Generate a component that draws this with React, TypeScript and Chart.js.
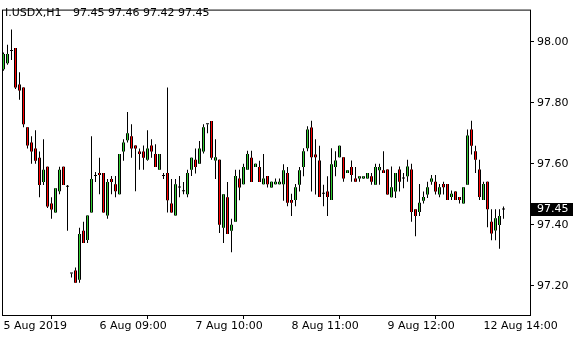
import React, { useEffect, useRef } from "react";
import { Chart, registerables } from "chart.js";

Chart.register(...registerables);

const symbolTitle = "I.USDX,H1";
const ohlcTitle = "97.45 97.46 97.42 97.45";
const lastPrice = 97.45;

const opens = [
  97.91, 97.93, 97.97, 97.98, 97.86, 97.85, 97.72, 97.67, 97.65, 97.62,
  97.54, 97.59, 97.47, 97.44, 97.51, 97.59, 97.525, 97.24, 97.25, 97.22,
  97.38, 97.35, 97.44, 97.56, 97.57, 97.57, 97.43, 97.55, 97.533, 97.5,
  97.64, 97.677, 97.69, 97.66, 97.64, 97.64, 97.613, 97.66, 97.632, 97.58,
  97.56, 97.57, 97.47, 97.43, 97.522, 97.51, 97.5, 97.58, 97.613, 97.6,
  97.64, 97.73, 97.74, 97.611, 97.613, 97.39, 97.49, 97.38, 97.41, 97.552,
  97.533, 97.58, 97.62, 97.589, 97.589, 97.533, 97.56, 97.522, 97.533, 97.533,
  97.533, 97.57, 97.481, 97.481, 97.531, 97.589, 97.651, 97.719, 97.63, 97.611,
  97.502, 97.509, 97.481, 97.589, 97.621, 97.621, 97.57, 97.589, 97.552, 97.552,
  97.552, 97.552, 97.559, 97.531, 97.579, 97.579, 97.581, 97.49, 97.509, 97.581,
  97.552, 97.559, 97.581, 97.451, 97.442, 97.479, 97.499, 97.541, 97.541, 97.499,
  97.534, 97.534, 97.491, 97.509, 97.491, 97.47, 97.531, 97.712, 97.641, 97.581,
  97.481, 97.541, 97.41, 97.381, 97.399, 97.45,
];
const highs = [
  97.965, 97.99, 98.04, 97.98, 97.9, 97.85, 97.72, 97.69, 97.71, 97.64,
  97.68, 97.59, 97.49, 97.52, 97.59, 97.59, 97.53, 97.24, 97.26, 97.39,
  97.41, 97.43, 97.69, 97.573, 97.62, 97.57, 97.55, 97.56, 97.56, 97.632,
  97.68, 97.77, 97.73, 97.66, 97.65, 97.66, 97.71, 97.68, 97.664, 97.632,
  97.57, 97.85, 97.55, 97.55, 97.56, 97.54, 97.58, 97.62, 97.65, 97.675,
  97.73, 97.73, 97.74, 97.68, 97.613, 97.5, 97.54, 97.42, 97.58, 97.58,
  97.6, 97.643, 97.643, 97.6, 97.61, 97.632, 97.56, 97.541, 97.552, 97.552,
  97.598, 97.589, 97.502, 97.534, 97.589, 97.651, 97.723, 97.741, 97.68, 97.659,
  97.531, 97.559, 97.651, 97.641, 97.659, 97.621, 97.579, 97.611, 97.589, 97.559,
  97.56, 97.57, 97.57, 97.6, 97.6, 97.641, 97.581, 97.591, 97.57, 97.591,
  97.57, 97.613, 97.6, 97.451, 97.534, 97.509, 97.541, 97.563, 97.563, 97.534,
  97.541, 97.534, 97.512, 97.509, 97.491, 97.523, 97.712, 97.741, 97.659, 97.613,
  97.541, 97.541, 97.451, 97.451, 97.451, 97.46,
];
const lows = [
  97.905, 97.925, 97.94, 97.845, 97.81, 97.72, 97.65, 97.6, 97.6, 97.49,
  97.53, 97.455, 97.42, 97.44, 97.5, 97.53, 97.38, 97.227, 97.21, 97.21,
  97.34, 97.34, 97.44, 97.54, 97.5, 97.44, 97.42, 97.5, 97.49, 97.5,
  97.61, 97.67, 97.62, 97.51, 97.58, 97.58, 97.61, 97.62, 97.589, 97.58,
  97.55, 97.44, 97.44, 97.43, 97.49, 97.5, 97.49, 97.56, 97.568, 97.6,
  97.634, 97.7, 97.613, 97.55, 97.373, 97.34, 97.37, 97.31, 97.41, 97.48,
  97.533, 97.58, 97.54, 97.589, 97.54, 97.533, 97.522, 97.522, 97.533, 97.533,
  97.479, 97.461, 97.429, 97.461, 97.509, 97.559, 97.641, 97.509, 97.499, 97.491,
  97.461, 97.429, 97.481, 97.559, 97.621, 97.541, 97.57, 97.541, 97.541, 97.541,
  97.55, 97.552, 97.531, 97.531, 97.531, 97.57, 97.499, 97.49, 97.488, 97.509,
  97.52, 97.541, 97.41, 97.362, 97.429, 97.47, 97.488, 97.531, 97.499, 97.49,
  97.499, 97.481, 97.481, 97.481, 97.47, 97.47, 97.531, 97.63, 97.57, 97.481,
  97.481, 97.392, 97.349, 97.349, 97.321, 97.42,
];
const closes = [
  97.96, 97.96, 97.97, 97.85, 97.84, 97.73, 97.66, 97.64, 97.61, 97.53,
  97.58, 97.46, 97.45, 97.52, 97.58, 97.53, 97.525, 97.24, 97.21, 97.37,
  97.34, 97.43, 97.55, 97.56, 97.563, 97.44, 97.54, 97.54, 97.51, 97.632,
  97.67, 97.7, 97.65, 97.65, 97.632, 97.62, 97.65, 97.64, 97.589, 97.632,
  97.56, 97.48, 97.44, 97.533, 97.522, 97.51, 97.57, 97.62, 97.589, 97.65,
  97.72, 97.73, 97.62, 97.621, 97.4, 97.5, 97.37, 97.4, 97.56, 97.522,
  97.589, 97.632, 97.54, 97.6, 97.54, 97.552, 97.533, 97.541, 97.541, 97.541,
  97.579, 97.472, 97.472, 97.523, 97.579, 97.641, 97.712, 97.621, 97.621, 97.491,
  97.502, 97.491, 97.598, 97.611, 97.659, 97.552, 97.579, 97.563, 97.541, 97.559,
  97.559, 97.57, 97.541, 97.589, 97.589, 97.57, 97.499, 97.523, 97.57, 97.541,
  97.552, 97.591, 97.442, 97.429, 97.472, 97.491, 97.523, 97.552, 97.509, 97.523,
  97.523, 97.481, 97.502, 97.481, 97.481, 97.523, 97.693, 97.659, 97.613, 97.491,
  97.534, 97.451, 97.371, 97.421, 97.429, 97.45,
];

const xTickIndexes = [0, 24, 48, 72, 96, 120];
const xTickLabels = ["5 Aug 2019", "6 Aug 09:00", "7 Aug 10:00", "8 Aug 11:00", "9 Aug 12:00", "12 Aug 14:00"];
const yTickValues = [97.2, 97.4, 97.6, 97.8, 98.0];

const FONT = '"DejaVu Sans", sans-serif';

export default function App() {
  const canvasRef = useRef<HTMLCanvasElement | null>(null);

  useEffect(() => {
    document.body.style.margin = "0";
    const canvas = canvasRef.current;
    if (!canvas) return;

    const fillColors = opens.map((o, i) =>
      closes[i] > o ? "#32cd32" : closes[i] < o ? "#ff0000" : "#000000"
    );

    const overlay = {
      id: "mt4overlay",
      afterDraw(chart: any) {
        const ctx = chart.ctx;
        const a = chart.chartArea;
        ctx.save();
        ctx.strokeStyle = "#000";
        ctx.lineWidth = 1;
        ctx.strokeRect(a.left + 0.5, a.top + 0.5, a.right - a.left, a.bottom - a.top);
        ctx.font = "11px " + FONT;
        ctx.fillStyle = "#000";
        ctx.textBaseline = "alphabetic";
        ctx.textAlign = "left";
        ctx.fillText(symbolTitle, 5, 16);
        ctx.fillText(ohlcTitle, 73, 16);
        const yc = chart.scales.y.getPixelForValue(lastPrice);
        ctx.fillStyle = "#000";
        ctx.fillRect(a.right + 1, Math.round(yc) - 7, 42, 13);
        ctx.fillStyle = "#fff";
        ctx.textBaseline = "middle";
        ctx.fillText(lastPrice.toFixed(2), a.right + 7, Math.round(yc) - 0.5);
        ctx.restore();
      },
    };

    const common = {
      stack: "candle",
      borderWidth: 0,
      inflateAmount: 0,
      grouped: false,
      categoryPercentage: 1,
    };

    const chart = new Chart(canvas, {
      type: "bar",
      data: {
        datasets: [
          {
            ...common,
            label: "body fill",
            order: 0,
            data: opens.map((o, i) => ({ x: i, y: [o, closes[i]] })) as any,
            backgroundColor: fillColors,
            barPercentage: 0.25,
            maxBarThickness: 1,
          } as any,
          {
            ...common,
            label: "wick",
            order: 1,
            data: lows.map((l, i) => ({ x: i, y: [l, highs[i]] })) as any,
            backgroundColor: "#000000",
            barPercentage: 0.25,
            maxBarThickness: 1,
          } as any,
          {
            ...common,
            label: "body outline",
            order: 2,
            data: opens.map((o, i) => ({ x: i, y: [o, closes[i]] })) as any,
            backgroundColor: "#000000",
            minBarLength: 1,
            barPercentage: 0.75,
            maxBarThickness: 3,
          } as any,
        ],
      },
      plugins: [overlay],
      options: {
        responsive: false,
        animation: false,
        events: [],
        layout: { padding: { left: 2, top: 2, right: 0, bottom: 0 } },
        plugins: { legend: { display: false }, tooltip: { enabled: false }, title: { display: false } },
        scales: {
          x: {
            type: "linear",
            offset: false,
            min: -0.375,
            max: 131.625,
            afterBuildTicks: (scale: any) => {
              scale.ticks = xTickIndexes.map((v) => ({ value: v }));
            },
            afterFit: (scale: any) => {
              scale.height = 25;
            },
            ticks: {
              autoSkip: false,
              maxRotation: 0,
              minRotation: 0,
              align: "start",
              padding: 1,
              color: "#000",
              font: { family: FONT, size: 11 },
              callback: (v: any) => {
                const k = xTickIndexes.indexOf(Number(v));
                return k >= 0 ? xTickLabels[k] : "";
              },
            },
            grid: { display: true, drawOnChartArea: false, drawTicks: true, tickLength: 4, color: "#000" },
            border: { display: false },
          },
          y: {
            type: "linear",
            position: "right",
            stacked: false,
            min: 97.104,
            max: 98.1056,
            afterBuildTicks: (scale: any) => {
              scale.ticks = yTickValues.map((v) => ({ value: v }));
            },
            afterFit: (scale: any) => {
              scale.width = 50;
            },
            ticks: {
              padding: 3,
              color: "#000",
              font: { family: FONT, size: 11 },
              callback: (v: any) => Number(v).toFixed(2),
            },
            grid: { display: true, drawOnChartArea: false, drawTicks: true, tickLength: 4, color: "#000" },
            border: { display: false },
          },
        },
      } as any,
    });
    return () => chart.destroy();
  }, []);

  return (
    <div style={{ position: "fixed", left: 0, top: 0, width: 580, height: 340, background: "#fff" }}>
      <canvas ref={canvasRef} width={580} height={340} style={{ display: "block" }} />
    </div>
  );
}
